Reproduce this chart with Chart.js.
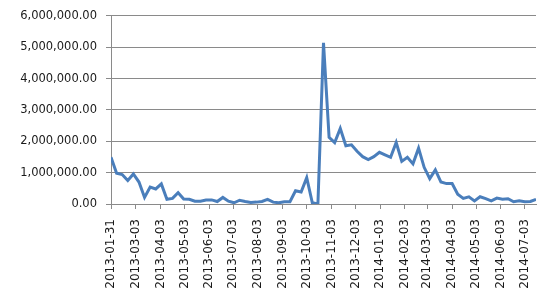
<!DOCTYPE html>
<html>
<head>
<meta charset="utf-8">
<script src="https://cdn.jsdelivr.net/npm/chart.js@4"></script>
<style>
html,body{margin:0;padding:0;background:#fff;}
#wrap{width:550px;height:300px;position:relative;}
</style>
</head>
<body>
<div id="wrap"><canvas id="c"></canvas></div>
<script>
const dates = [
 '2013-01-31','2013-02-07','2013-02-14','2013-02-21','2013-02-28','2013-03-07','2013-03-14','2013-03-21','2013-03-28',
 '2013-04-04','2013-04-11','2013-04-18','2013-04-25','2013-05-02','2013-05-09','2013-05-16','2013-05-23','2013-05-30',
 '2013-06-06','2013-06-13','2013-06-20','2013-06-27','2013-07-04','2013-07-11','2013-07-18','2013-07-25',
 '2013-08-01','2013-08-08','2013-08-15','2013-08-22','2013-08-29','2013-09-05','2013-09-12','2013-09-19','2013-09-26',
 '2013-10-03','2013-10-10','2013-10-17','2013-10-24','2013-10-31','2013-11-07','2013-11-14','2013-11-21','2013-11-28',
 '2013-12-05','2013-12-12','2013-12-19','2013-12-26','2014-01-02','2014-01-09','2014-01-16','2014-01-23','2014-01-30',
 '2014-02-06','2014-02-13','2014-02-20','2014-02-27','2014-03-06','2014-03-13','2014-03-20','2014-03-27',
 '2014-04-03','2014-04-10','2014-04-17','2014-04-24','2014-05-01','2014-05-08','2014-05-15','2014-05-22','2014-05-29',
 '2014-06-05','2014-06-12','2014-06-19','2014-06-26','2014-07-03','2014-07-10','2014-07-17'
];
const values = [
 1490000, 980000, 940000, 750000, 960000, 700000, 210000, 540000, 480000,
 640000, 150000, 180000, 360000, 160000, 150000, 90000, 90000, 130000,
 130000, 80000, 210000, 90000, 40000, 120000, 80000, 50000,
 60000, 80000, 150000, 60000, 40000, 70000, 70000, 420000, 380000,
 840000, 40000, 0, 5140000, 2130000, 1960000, 2410000, 1860000, 1890000,
 1680000, 1510000, 1420000, 1510000, 1650000, 1570000, 1490000, 1960000, 1360000,
 1490000, 1280000, 1780000, 1170000, 810000, 1090000, 700000, 650000,
 650000, 310000, 180000, 230000, 100000, 230000, 170000, 100000, 190000,
 150000, 170000, 70000, 100000, 70000, 80000, 150000
];
const tickLabels = [
 '2013-01-31','2013-03-03','2013-04-03','2013-05-03','2013-06-03','2013-07-03','2013-08-03','2013-09-03','2013-10-03',
 '2013-11-03','2013-12-03','2014-01-03','2014-02-03','2014-03-03','2014-04-03','2014-05-03','2014-06-03','2014-07-03'
];

const DAY = 86400000;
const t0 = Date.parse(dates[0]);
const dayOf = s => Math.round((Date.parse(s) - t0) / DAY);
const points = dates.map((d, i) => ({x: dayOf(d), y: values[i]}));
const tickMap = {};
tickLabels.forEach(l => { tickMap[dayOf(l)] = l; });

function fmt(v){
  const s = Number(v).toFixed(2);
  const [a, b] = s.split('.');
  return a.replace(/\B(?=(\d{3})+(?!\d))/g, ',') + '.' + b;
}

const gridColor = '#8a8a8a';

new Chart(document.getElementById('c'), {
  type: 'line',
  data: {
    datasets: [{
      data: points,
      borderColor: '#4a7ebb',
      borderWidth: 3,
      pointRadius: 0,
      tension: 0,
      fill: false
    }]
  },
  options: {
    responsive: true,
    maintainAspectRatio: false,
    animation: false,
    devicePixelRatio: 1,
    layout: {padding: {top: 13, right: 14, bottom: 0, left: 0}},
    plugins: {legend: {display: false}, tooltip: {enabled: false}},
    scales: {
      x: {
        type: 'linear',
        min: 0,
        max: dayOf(dates[dates.length - 1]),
        afterBuildTicks: s => { s.ticks = tickLabels.map(l => ({value: dayOf(l)})); },
        afterFit: s => { s.height = 96; },
        grid: {drawOnChartArea: false, drawTicks: true, tickLength: 5, color: gridColor},
        border: {display: true, color: gridColor, width: 1},
        ticks: {
          autoSkip: false,
          minRotation: 90,
          maxRotation: 90,
          padding: 10,
          color: '#1a1a1a',
          font: {family: 'DejaVu Sans', size: 12},
          callback: v => tickMap[v] || ''
        }
      },
      y: {
        min: 0,
        max: 6000000,
        afterFit: s => { s.width = 111; },
        grid: {color: gridColor, lineWidth: 1, drawTicks: true, tickLength: 5},
        border: {display: true, color: gridColor, width: 1},
        ticks: {
          stepSize: 1000000,
          padding: 9,
          color: '#1a1a1a',
          font: {family: 'DejaVu Sans', size: 11.5},
          callback: v => fmt(v)
        }
      }
    }
  }
});
</script>
</body>
</html>
